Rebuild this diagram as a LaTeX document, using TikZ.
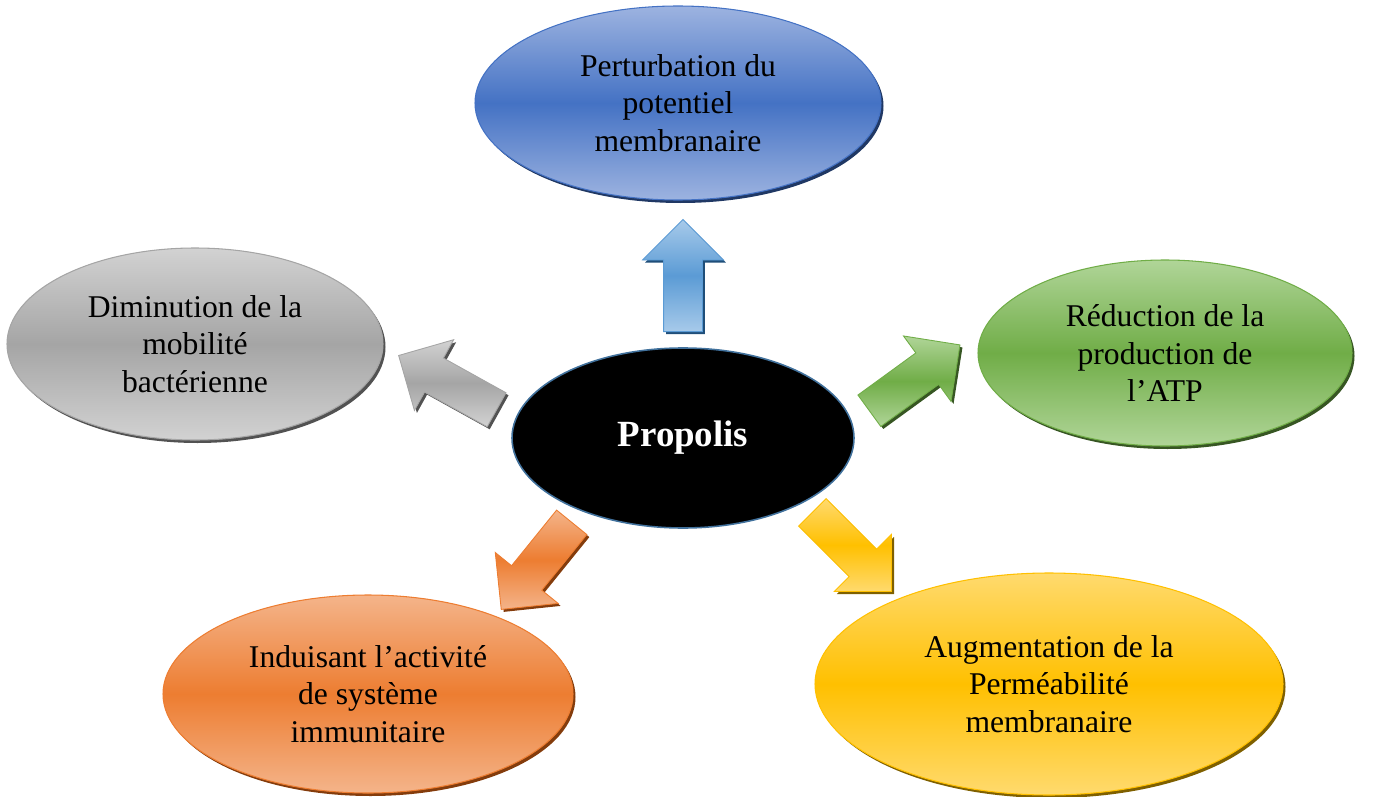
\documentclass[tikz,border=0pt]{standalone}
\usepackage{fontspec}
\setmainfont{Liberation Serif}
\usetikzlibrary{shapes.geometric,shapes.arrows,shadows}
\definecolor{bluelt}{HTML}{9DB3E0}
\definecolor{bluemd}{HTML}{4472C4}
\definecolor{bluedk}{HTML}{203864}
\definecolor{skylt}{HTML}{A7CAEA}
\definecolor{skymd}{HTML}{5B9BD5}
\definecolor{skydk}{HTML}{1F4E79}
\definecolor{graylt}{HTML}{D2D2D2}
\definecolor{graymd}{HTML}{A5A5A5}
\definecolor{graydk}{HTML}{525252}
\definecolor{greenlt}{HTML}{B0D598}
\definecolor{greenmd}{HTML}{70AD47}
\definecolor{greendk}{HTML}{375623}
\definecolor{orangelt}{HTML}{F4B48A}
\definecolor{orangemd}{HTML}{ED7D31}
\definecolor{orangedk}{HTML}{843C0C}
\definecolor{yellowlt}{HTML}{FFDA6E}
\definecolor{yellowmd}{HTML}{FFC000}
\definecolor{yellowdk}{HTML}{7F6000}
\definecolor{centreedge}{HTML}{41719C}
\begin{document}
\begin{tikzpicture}[
    bubble/.style n args={3}{ellipse, inner sep=0pt, align=center,
      font=\fontsize{18}{21.5}\selectfont, draw=#2, line width=0.6pt,
      top color=#1, bottom color=#1, middle color=#2,
      drop shadow={shadow xshift=0.05cm, shadow yshift=-0.06cm, opacity=1, fill=#3}},
    fatarrow/.style n args={3}{single arrow, inner xsep=0pt, inner ysep=0.38cm,
      minimum height=2.24cm, single arrow head extend=0.42cm,
      single arrow tip angle=90, draw=#2, line width=0.5pt,
      top color=#1, bottom color=#1, middle color=#2,
      drop shadow={shadow xshift=0.05cm, shadow yshift=-0.05cm, opacity=1, fill=#3}}]
  \useasboundingbox (0,0) rectangle (27.48,15.92);
  \node[ellipse, fill=black, draw=centreedge, line width=0.9pt,
    minimum width=6.84cm, minimum height=3.6cm, text=white,
    font=\fontsize{21}{25}\selectfont\bfseries] (prop) at (13.66,7.16) {Propolis};
  \node[bubble={bluelt}{bluemd}{bluedk}, minimum width=8.12cm, minimum height=3.88cm]
    (pot) at (13.56,13.86) {Perturbation du\\potentiel\\membranaire};
  \node[bubble={graylt}{graymd}{graydk}, minimum width=7.52cm, minimum height=3.84cm]
    (mob) at (3.9,9.04) {Diminution de la\\mobilité\\bactérienne};
  \node[bubble={greenlt}{greenmd}{greendk}, minimum width=7.48cm, minimum height=3.72cm]
    (atp) at (23.3,8.86) {Réduction de la\\production de\\l’ATP};
  \node[bubble={orangelt}{orangemd}{orangedk}, minimum width=8.2cm, minimum height=3.96cm]
    (immu) at (7.36,2.04) {Induisant l’activité\\de système\\immunitaire};
  \node[bubble={yellowlt}{yellowmd}{yellowdk}, minimum width=9.36cm, minimum height=4.44cm]
    (perm) at (20.98,2.24) {Augmentation de la\\Perméabilité\\membranaire};
  \node[fatarrow={skylt}{skymd}{skydk}, rotate=90, anchor=tail]
    (topar) at (13.66,9.28) {};
  \node[fatarrow={graylt}{graymd}{graydk}, rotate=151, anchor=tail]
    (leftar) at (9.94,7.72) {};
  \node[fatarrow={greenlt}{greenmd}{greendk}, rotate=36, anchor=tail]
    (rightar) at (17.38,7.70) {};
  \node[fatarrow={orangelt}{orangemd}{orangedk}, rotate=231, anchor=tail]
    (lowleftar) at (11.44,5.48) {};
  \node[fatarrow={yellowlt}{yellowmd}{yellowdk}, rotate=315, anchor=tail]
    (lowrightar) at (16.24,5.68) {};
\end{tikzpicture}
\end{document}
